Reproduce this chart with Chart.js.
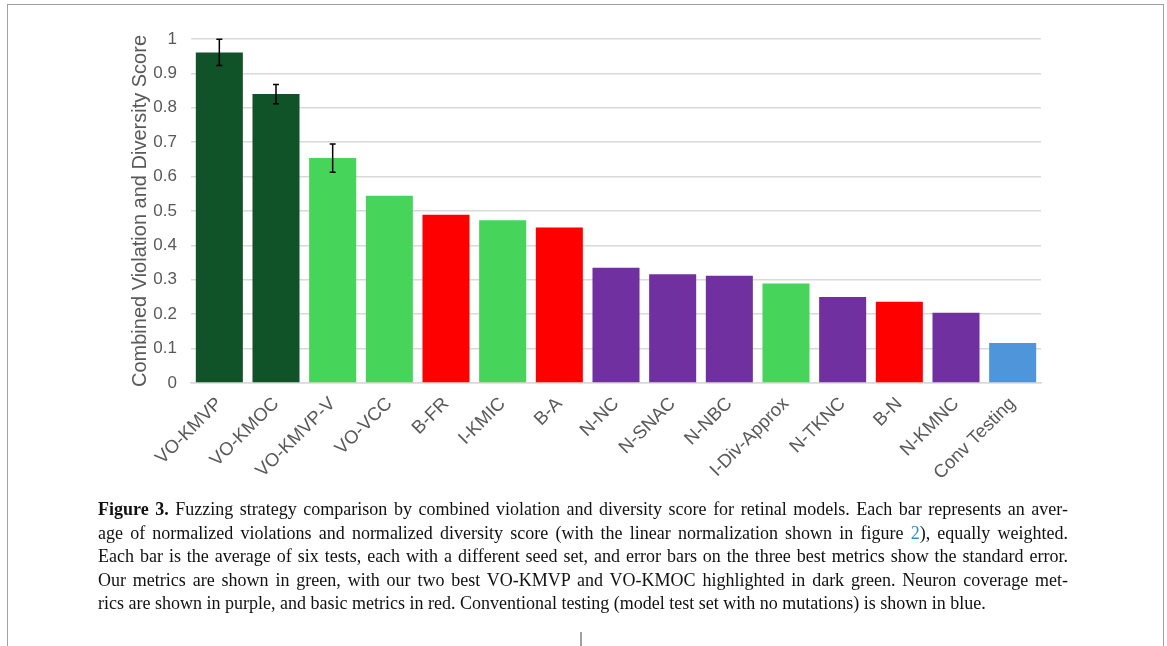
<!doctype html>
<html lang="en">
  <head>
    <meta charset="utf-8">
    <title>Figure 3</title>
    <style>
      * {
        margin: 0;
        padding: 0;
      }
      body {
        width: 1167px;
        height: 646px;
        background: white;
        position: relative;
        overflow: hidden;
      }
      .frame {
        position: absolute;
        left: 7px;
        top: 4px;
        width: 1155px;
        height: 660px;
        border: solid 1.5px #a0a0a0;
        border-bottom: none;
      }
      .chartBox {
        position: absolute;
        left: 0;
        top: 0;
        width: 1167px;
        height: 500px;
      }
      .caption {
        position: absolute;
        left: 98px;
        top: 498px;
        width: 970px;
        font-family: 'Liberation Serif', serif;
        font-size: 18px;
        line-height: 23.5px;
        color: #111;
      }
      .caption div {
        text-align: justify;
        text-align-last: justify;
        white-space: nowrap;
      }
      .caption div.last {
        text-align-last: left;
      }
      .caption a {
        color: #2a8fc8;
        text-decoration: none;
      }
      .tick {
        position: absolute;
        left: 580px;
        top: 632px;
        width: 1.5px;
        height: 14px;
        background: #a0a0a0;
      }
    </style>
  </head>
  <body>
    <div class="frame"></div>
    <div class="chartBox">
      <canvas id="myChart"></canvas>
    </div>
    <div class="caption">
      <div><b>Figure 3.</b> Fuzzing strategy comparison by combined violation and diversity score for retinal models. Each bar represents an aver-</div>
      <div>age of normalized violations and normalized diversity score (with the linear normalization shown in figure <a>2</a>), equally weighted.</div>
      <div>Each bar is the average of six tests, each with a different seed set, and error bars on the three best metrics show the standard error.</div>
      <div>Our metrics are shown in green, with our two best VO-KMVP and VO-KMOC highlighted in dark green. Neuron coverage met-</div>
      <div class="last">rics are shown in purple, and basic metrics in red. Conventional testing (model test set with no mutations) is shown in blue.</div>
    </div>
    <div class="tick"></div>
    <script src="https://cdn.jsdelivr.net/npm/chart.js/dist/chart.umd.min.js"></script>
    <script>
    // data
    const labels = ['VO-KMVP', 'VO-KMOC', 'VO-KMVP-V', 'VO-VCC', 'B-FR', 'I-KMIC', 'B-A', 'N-NC',
      'N-SNAC', 'N-NBC', 'I-Div-Approx', 'N-TKNC', 'B-N', 'N-KMNC', 'Conv Testing'];
    const scores = [0.961, 0.840, 0.654, 0.544, 0.489, 0.473, 0.452, 0.335,
      0.316, 0.312, 0.289, 0.250, 0.236, 0.204, 0.116];
    const stdErr = [0.038, 0.028, 0.041, null, null, null, null, null,
      null, null, null, null, null, null, null];
    const groups = ['best', 'best', 'ours', 'ours', 'basic', 'ours', 'basic', 'neuron',
      'neuron', 'neuron', 'ours', 'neuron', 'basic', 'neuron', 'conv'];
    const yTicks = [0, 0.1, 0.2, 0.3, 0.4, 0.5, 0.6, 0.7, 0.8, 0.9, 1];

    const groupColors = {
      best: '#105328',
      ours: '#47d45a',
      basic: '#ff0000',
      neuron: '#7030a0',
      conv: '#4e95d9'
    };

    // error bars drawn through the scales
    const errorBars = {
      id: 'errorBars',
      afterDatasetsDraw(chart) {
        const ctx = chart.ctx;
        const x = chart.scales.x;
        const y = chart.scales.y;
        ctx.save();
        ctx.strokeStyle = '#000';
        ctx.lineWidth = 1.5;
        stdErr.forEach((e, i) => {
          if (e == null) return;
          const cx = x.getPixelForValue(i);
          const top = y.getPixelForValue(scores[i] + e);
          const bot = y.getPixelForValue(scores[i] - e);
          ctx.beginPath();
          ctx.moveTo(cx, top); ctx.lineTo(cx, bot);
          ctx.moveTo(cx - 3, top); ctx.lineTo(cx + 3, top);
          ctx.moveTo(cx - 3, bot); ctx.lineTo(cx + 3, bot);
          ctx.stroke();
        });
        ctx.restore();
      }
    };

    const data = {
      labels: labels,
      datasets: [{
        data: scores,
        backgroundColor: groups.map(g => groupColors[g]),
        borderWidth: 0,
        barPercentage: 0.83,
        categoryPercentage: 1
      }]
    };

    const config = {
      type: 'bar',
      data,
      options: {
        responsive: true,
        maintainAspectRatio: false,
        animation: false,
        layout: {
          padding: { left: 128, right: 126, top: 39, bottom: 0 }
        },
        plugins: {
          legend: { display: false },
          tooltip: { enabled: false }
        },
        scales: {
          x: {
            grid: { display: false, drawTicks: false },
            border: { display: true, color: '#d9d9d9', width: 1.5 },
            ticks: {
              color: '#595959',
              font: { family: 'Liberation Sans', size: 18.5 },
              maxRotation: 45,
              minRotation: 45,
              padding: 10,
              autoSkip: false
            },
            afterFit(scale) { scale.height = 117; }
          },
          y: {
            min: 0,
            max: 1,
            afterBuildTicks(scale) { scale.ticks = yTicks.map(v => ({ value: v })); },
            grid: { color: '#d9d9d9', lineWidth: 1.5, drawTicks: false },
            border: { display: false },
            ticks: {
              color: '#595959',
              font: { family: 'Liberation Sans', size: 17 },
              padding: 14,
              callback: v => String(v)
            },
            title: {
              display: true,
              text: 'Combined Violation and Diversity Score',
              color: '#595959',
              font: { family: 'Liberation Sans', size: 20 },
              padding: 0
            },
            afterFit(scale) { scale.width = 63; }
          }
        }
      },
      plugins: [errorBars]
    };

    const myChart = new Chart(document.getElementById('myChart'), config);
    </script>
  </body>
</html>
